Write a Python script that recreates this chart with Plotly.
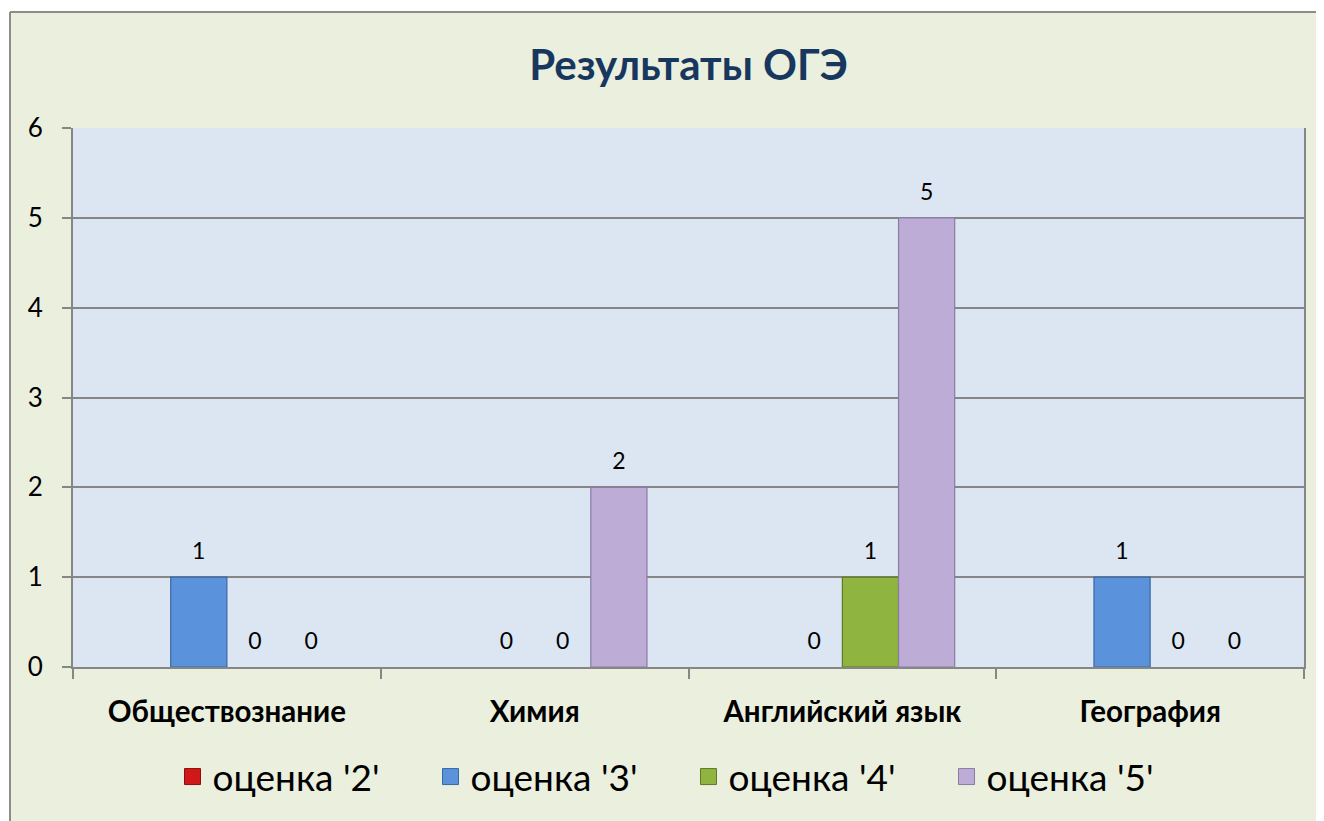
import plotly.graph_objects as go

categories = ["Обществознание", "Химия", "Английский язык", "География"]
series_names = ["оценка '2'", "оценка '3'", "оценка '4'", "оценка '5'"]
grade2 = [None, None, None, None]
grade3 = [1, 0, 0, 1]
grade4 = [0, 0, 1, 0]
grade5 = [0, 2, 5, 0]
y_ticks = [0, 1, 2, 3, 4, 5, 6]

colors = ["#D01818", "#5A92DC", "#8FB43F", "#BCACD6"]
edges = ["#8A0E0E", "#3A67A3", "#5E7A25", "#8A7BA3"]

FONT = "Lato, Open Sans, sans-serif"
OFF = 8  # page body margin
W, H = 1324 - OFF, 821 - OFF
L, R, T, B = 73 - OFF, 1304 - OFF, 128 - OFF, 667 - OFF

fig = go.Figure()
for name, vals, c, e in zip(series_names, [grade2, grade3, grade4, grade5], colors, edges):
    fig.add_trace(go.Bar(
        x=categories, y=vals, name=name, showlegend=False,
        marker=dict(color=c, line=dict(color=e, width=[0 if not v else 1.2 for v in vals])),
        text=[("" if v is None else f"<span style='font-size:23px'>{v}</span><br> ") for v in vals],
        textposition="outside", cliponaxis=False, constraintext="none",
        textfont=dict(family=FONT, size=10, color="#000000"),
    ))
# legend entries (square swatches)
for name, c, e in zip(series_names, colors, edges):
    fig.add_trace(go.Scatter(
        x=[None], y=[None], name=name, mode="markers",
        marker=dict(symbol="square", size=20, color=c, line=dict(color=e, width=1)),
    ))

def px_x(p):
    return (p - OFF - L) / (R - L)

def px_y(p):
    return (B - (p - OFF)) / (B - T)

shapes = [
    dict(type="rect", xref="paper", yref="paper", x0=px_x(-20), x1=px_x(1340), y0=px_y(11.5), y1=px_y(-20),
         fillcolor="white", line=dict(width=0), layer="below"),
    dict(type="rect", xref="paper", yref="paper", x0=px_x(-20), x1=px_x(9.5), y0=px_y(840), y1=px_y(-20),
         fillcolor="white", line=dict(width=0), layer="below"),
    dict(type="line", xref="paper", yref="paper", x0=px_x(10), x1=px_x(1340), y0=px_y(12), y1=px_y(12),
         line=dict(color="#8C8C8C", width=2), layer="below"),
    dict(type="line", xref="paper", yref="paper", x0=px_x(10), x1=px_x(10), y0=px_y(12), y1=px_y(840),
         line=dict(color="#8C8C8C", width=2), layer="below"),
]

fig.update_layout(
    width=W, height=H,
    margin=dict(l=L, r=W - R, t=T, b=H - B, pad=0),
    paper_bgcolor="#EBEFDE",
    plot_bgcolor="#DCE6F2",
    barmode="group",
    bargap=0.27,
    bargroupgap=0,
    title=dict(text="<b>Результаты ОГЭ</b>", x=0.5, xanchor="center", xref="paper",
               y=1 - (65 - OFF) / H, yanchor="middle", yref="container",
               font=dict(family=FONT, size=42, color="#17375E")),
    font=dict(family=FONT, color="#000000"),
    showlegend=True,
    legend=dict(orientation="h", x=0.5, xanchor="center", y=px_y(777), yanchor="middle",
                font=dict(family=FONT, size=37, color="#000000"), bgcolor="rgba(0,0,0,0)",
                entrywidth=213, entrywidthmode="pixels"),
    shapes=shapes,
)

fig.update_xaxes(
    type="category", tickson="boundaries", ticks="outside", ticklen=10, tickcolor="#868686", tickwidth=1.5,
    showline=True, linecolor="#868686", linewidth=2, mirror=False, showgrid=False,
    tickfont=dict(family=FONT, size=29.5, color="#000000"),
    ticklabelstandoff=18,
    tickvals=categories, ticktext=[f"<b>{c}</b>" for c in categories],
)
fig.update_yaxes(
    range=[0, 6], tickvals=y_ticks, ticks="outside", ticklen=9, tickcolor="#868686", tickwidth=1.5,
    showline=True, linecolor="#868686", linewidth=2, mirror=True,
    showgrid=True, gridcolor="#868686", gridwidth=1.5, zeroline=False,
    tickfont=dict(family=FONT, size=26, color="#000000"),
    ticklabelstandoff=14,
)

fig.write_html("out.html")
